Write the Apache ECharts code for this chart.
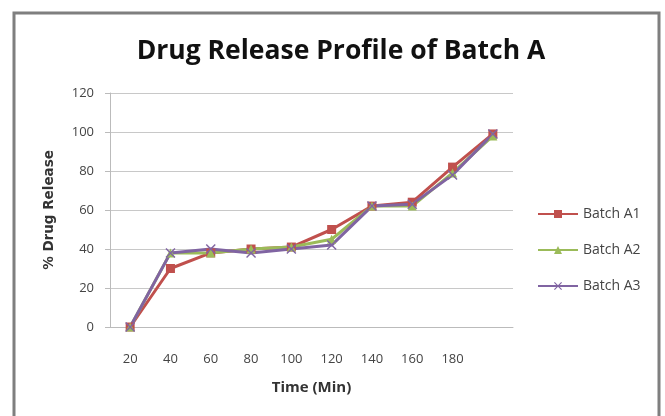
<!DOCTYPE html>
<html><head><meta charset="utf-8">
<script src="https://cdn.jsdelivr.net/npm/echarts@6/dist/echarts.min.js"></script>
<style>html,body{margin:0;padding:0;background:#fff}#c{width:665px;height:416px}</style>
</head><body><div id="c"></div>
<script>
var categories = ['20','40','60','80','100','120','140','160','180',''];
var batchA1 = [0, 30, 38, 40, 41, 50, 62, 64, 82, 99];
var batchA2 = [0, 38, 38, 40, 41, 45, 62, 62, 79, 98];
var batchA3 = [0, 38, 40, 38, 40, 42, 62, 63, 78, 99];
var seriesNames = ['Batch A1','Batch A2','Batch A3'];
var colors = ['#C0504D','#9BBB59','#8064A2'];
var xPath = 'path://M0,1L1,0L5,4L9,0L10,1L6,5L10,9L9,10L5,6L1,10L0,9L4,5Z';
var chart = echarts.init(document.getElementById('c'));
var font = '"Open Sans", "Noto Sans", sans-serif';
function mk(name, data, color, symbol, size){
  return {name:name, type:'line', data:data, symbol:symbol, symbolSize:size,
    lineStyle:{color:color, width:3}, itemStyle:{color:color}, z:3};
}
chart.setOption({
  backgroundColor:'#fff',
  animation:false,
  title:{text:'Drug Release Profile of Batch A', left:336, top:33, textAlign:'center',
    textStyle:{fontFamily:font, fontSize:26.5, fontWeight:'bold', color:'#111'}},
  graphic:[{type:'rect', shape:{x:14, y:13, width:645, height:420},
    style:{fill:'none', stroke:'#7f7f7f', lineWidth:3}}],
  legend:{orient:'vertical', left:532, top:202, itemGap:22, itemWidth:40, itemHeight:10,
    data:seriesNames, textStyle:{fontFamily:font, fontSize:14, color:'#444'}},
  grid:{left:110, right:152, top:93, bottom:89},
  xAxis:{type:'category', data:categories, boundaryGap:true,
    name:'Time (Min)', nameLocation:'middle', nameGap:53,
    nameTextStyle:{fontFamily:font, fontSize:15, fontWeight:'bold', color:'#333'},
    axisLine:{show:true, lineStyle:{color:'#bbb'}}, axisTick:{show:false},
    axisLabel:{fontFamily:font, fontSize:13, color:'#444', margin:26, interval:0}},
  yAxis:{type:'value', min:0, max:120, interval:20,
    name:'% Drug Release', nameLocation:'middle', nameGap:54,
    nameTextStyle:{fontFamily:'"DejaVu Sans", sans-serif', fontSize:13.5, fontWeight:'bold', color:'#333'},
    axisLine:{show:true, lineStyle:{color:'#bbb'}}, axisTick:{show:true, length:5, lineStyle:{color:'#bbb'}},
    axisLabel:{fontFamily:font, fontSize:13, color:'#444', margin:16},
    splitLine:{lineStyle:{color:'#c8c8c8'}}},
  series:[mk(seriesNames[0], batchA1, colors[0], 'rect', 9),
          mk(seriesNames[1], batchA2, colors[1], 'triangle', 9),
          mk(seriesNames[2], batchA3, colors[2], xPath, 10)]
});
</script></body></html>
